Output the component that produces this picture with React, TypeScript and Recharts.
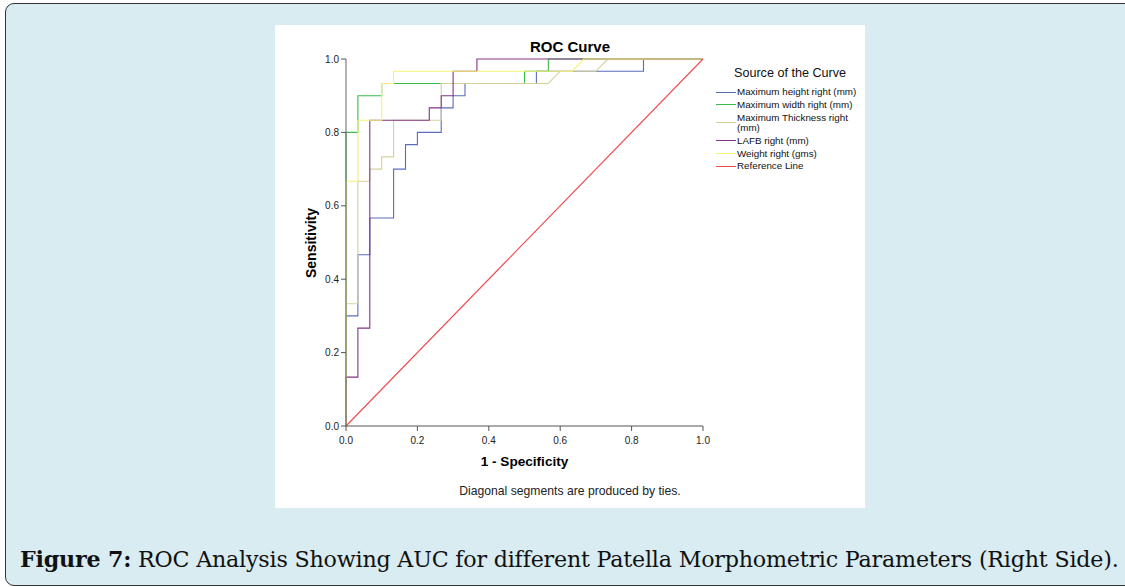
import React from "react";
import { LineChart, Line, XAxis, YAxis } from "recharts";

// ROC points, [1 - specificity, sensitivity]
const heightRight = [
  [0, 0], [0, 0.3], [0.0333, 0.3], [0.0333, 0.4667], [0.0667, 0.4667], [0.0667, 0.5667],
  [0.1333, 0.5667], [0.1333, 0.7], [0.1667, 0.7], [0.1667, 0.7667], [0.2, 0.7667], [0.2, 0.8],
  [0.2667, 0.8], [0.2667, 0.8667], [0.3, 0.8667], [0.3, 0.9], [0.3333, 0.9], [0.3333, 0.9333],
  [0.5333, 0.9333], [0.5333, 0.9667], [0.8333, 0.9667], [0.8333, 1], [1, 1],
];
const widthRight = [
  [0, 0], [0, 0.8], [0.0333, 0.8], [0.0333, 0.9], [0.1, 0.9], [0.1, 0.9333],
  [0.5, 0.9333], [0.5, 0.9667], [0.5667, 0.9667], [0.5667, 1], [1, 1],
];
const thicknessRight = [
  [0, 0], [0, 0.3333], [0.0333, 0.3333], [0.0333, 0.6667], [0.0667, 0.6667], [0.0667, 0.7],
  [0.1, 0.7], [0.1, 0.7333], [0.1333, 0.7333], [0.1333, 0.8333], [0.2667, 0.8333], [0.2667, 0.9333],
  [0.5667, 0.9333], [0.6, 0.9667], [0.7, 0.9667], [0.7333, 1], [1, 1],
];
const lafbRight = [
  [0, 0], [0, 0.1333], [0.0333, 0.1333], [0.0333, 0.2667], [0.0667, 0.2667], [0.0667, 0.8333],
  [0.2333, 0.8333], [0.2333, 0.8667], [0.2667, 0.8667], [0.2667, 0.9], [0.3, 0.9], [0.3, 0.9667],
  [0.3667, 0.9667], [0.3667, 1], [1, 1],
];
const weightRight = [
  [0, 0], [0, 0.6667], [0.0333, 0.6667], [0.0333, 0.8333], [0.1, 0.8333], [0.1, 0.9333],
  [0.1333, 0.9333], [0.1333, 0.9667], [0.6333, 0.9667], [0.6667, 1], [1, 1],
];
const referenceLine = [[0, 0], [1, 1]];

const seriesNames = [
  "Maximum height right (mm)",
  "Maximum width right (mm)",
  "Maximum Thickness right (mm)",
  "LAFB right (mm)",
  "Weight right (gms)",
  "Reference Line",
];
const seriesColors = ["#5a6cbd", "#3dbb4a", "#d6d19c", "#86338b", "#f6f272", "#ef4a4e"];
const seriesPoints = [heightRight, widthRight, thicknessRight, lafbRight, weightRight, referenceLine];

const axisTicks = [0, 0.2, 0.4, 0.6, 0.8, 1.0];

const sans = "'Liberation Sans', Arial, sans-serif";

function toRows(points: number[][]) {
  return points.map(([x, y]) => ({ x, y }));
}

function Legend() {
  return (
    <div style={{ position: "absolute", left: 716, top: 65, fontFamily: sans, color: "#111" }}>
      <div style={{ fontSize: 12.6, marginLeft: 18, lineHeight: "16px", marginBottom: 6 }}>
        Source of the Curve
      </div>
      {seriesNames.map((name, i) => (
        <div key={name} style={{ display: "flex", alignItems: "center", fontSize: 9.8, lineHeight: "10px", marginBottom: 2.9 }}>
          <div style={{ width: 20, height: 0, borderTop: `1.3px solid ${seriesColors[i]}`, marginRight: 1, flexShrink: 0 }} />
          <div style={{ width: 125 }}>{name}</div>
        </div>
      ))}
    </div>
  );
}

export default function App() {
  return (
    <div style={{ position: "absolute", left: 0, top: 0, width: 1125, height: 587, background: "#fff", overflow: "hidden" }}>
      <div
        style={{
          position: "absolute", left: 5, top: 3, width: 1140, height: 581,
          border: "1.5px solid #333", borderRadius: 9, background: "#d8ecf2",
        }}
      />
      <div style={{ position: "absolute", left: 275, top: 25, width: 590, height: 483, background: "#fff" }}>
        <LineChart width={590} height={483} margin={{ top: 34, right: 162, bottom: 52, left: 31 }}>
          <XAxis
            dataKey="x" type="number" domain={[0, 1]} ticks={axisTicks}
            tickFormatter={(v: number) => v.toFixed(1)}
            tick={{ fontSize: 10, fill: "#222", fontFamily: sans }}
            tickSize={5} tickMargin={6} height={30}
            stroke="#555" axisLine={{ stroke: "#555" }} tickLine={{ stroke: "#555" }}
          />
          <XAxis xAxisId="top" orientation="top" type="number" domain={[0, 1]} tick={false} tickLine={false} height={0} axisLine={{ stroke: "#777" }} />
          <YAxis
            type="number" domain={[0, 1]} ticks={axisTicks}
            tickFormatter={(v: number) => v.toFixed(1)}
            tick={{ fontSize: 10, fill: "#222", fontFamily: sans }}
            tickSize={5} tickMargin={2} width={40}
            axisLine={{ stroke: "#666" }} tickLine={{ stroke: "#555" }}
          />
          <YAxis yAxisId="right" orientation="right" type="number" domain={[0, 1]} tick={false} tickLine={false} width={0} axisLine={{ stroke: "#888" }} />
          {seriesPoints.map((pts, i) => (
            <Line
              key={seriesNames[i]}
              data={toRows(pts)}
              dataKey="y"
              type="linear"
              stroke={seriesColors[i]}
              strokeWidth={1.1}
              dot={false}
              activeDot={false}
              isAnimationActive={false}
            />
          ))}
        </LineChart>
        <div style={{ position: "absolute", left: 0, width: 590, top: 13, textAlign: "center", fontFamily: sans, fontWeight: "bold", fontSize: 15 }}>
          ROC Curve
        </div>
        <div
          style={{
            position: "absolute", left: 36, top: 218, width: 0, height: 0, fontFamily: sans, fontWeight: "bold", fontSize: 14,
          }}
        >
          <div style={{ position: "absolute", left: -50, top: -8, width: 100, textAlign: "center", transform: "rotate(-90deg)" }}>
            Sensitivity
          </div>
        </div>
        <div style={{ position: "absolute", left: 71, width: 357, top: 429, textAlign: "center", fontFamily: sans, fontWeight: "bold", fontSize: 13.6 }}>
          1 - Specificity
        </div>
        <div style={{ position: "absolute", left: 0, width: 590, top: 459, textAlign: "center", fontFamily: sans, fontSize: 12.2, color: "#222" }}>
          Diagonal segments are produced by ties.
        </div>
      </div>
      <Legend />
      <div
        style={{
          position: "absolute", left: 20, top: 546, whiteSpace: "nowrap",
          fontFamily: "'DejaVu Serif', serif", fontSize: 22.2, color: "#111", letterSpacing: -0.2,
        }}
      >
        <b>Figure 7:</b> ROC Analysis Showing AUC for different Patella Morphometric Parameters (Right Side).
      </div>
    </div>
  );
}
